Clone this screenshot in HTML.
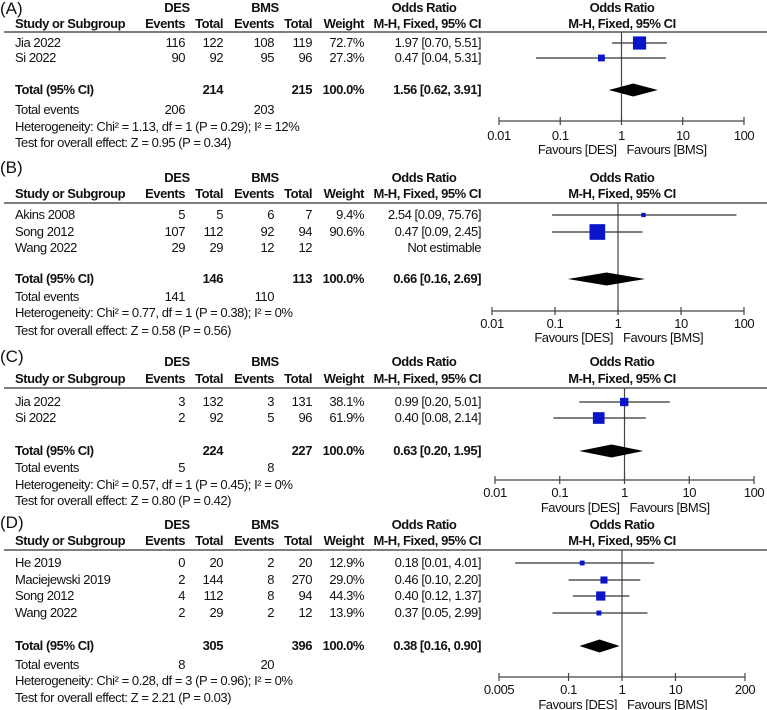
<!DOCTYPE html>
<html><head><meta charset="utf-8">
<style>
html,body{margin:0;padding:0;background:#fff;}
svg{display:block;}
text{font-family:"Liberation Sans Narrow","Liberation Sans",Arial,sans-serif;font-size:13px;letter-spacing:-0.45px;fill:#111;}
.b{font-weight:bold;}
</style></head>
<body>
<svg id="chart" width="767" height="710" viewBox="0 0 767 710" xmlns="http://www.w3.org/2000/svg"></svg>
<script>
// ---- Panel A data ----
const aStudies = ["Jia 2022","Si 2022"];
const aDesEv = [116,90], aDesTot = [122,92], aBmsEv = [108,95], aBmsTot = [119,96];
const aWeights = [72.7,27.3];
const aOR = [1.97,0.47], aLo = [0.70,0.04], aHi = [5.51,5.31];
const aTotal = {des:214,bms:215,or:1.56,lo:0.62,hi:3.91,desEv:206,bmsEv:203,
  het:"Heterogeneity: Chi² = 1.13, df = 1 (P = 0.29); I² = 12%",test:"Test for overall effect: Z = 0.95 (P = 0.34)"};
const aTicks = [0.01,0.1,1,10,100];
const aTickLabels = ["0.01","0.1","1","10","100"];
// ---- Panel B data ----
const bStudies = ["Akins 2008","Song 2012","Wang 2022"];
const bDesEv = [5,107,29], bDesTot = [5,112,29], bBmsEv = [6,92,12], bBmsTot = [7,94,12];
const bWeights = [9.4,90.6,null];
const bOR = [2.54,0.47,null], bLo = [0.09,0.09,null], bHi = [75.76,2.45,null];
const bTotal = {des:146,bms:113,or:0.66,lo:0.16,hi:2.69,desEv:141,bmsEv:110,
  het:"Heterogeneity: Chi² = 0.77, df = 1 (P = 0.38); I² = 0%",test:"Test for overall effect: Z = 0.58 (P = 0.56)"};
const bTicks = [0.01,0.1,1,10,100];
const bTickLabels = ["0.01","0.1","1","10","100"];
// ---- Panel C data ----
const cStudies = ["Jia 2022","Si 2022"];
const cDesEv = [3,2], cDesTot = [132,92], cBmsEv = [3,5], cBmsTot = [131,96];
const cWeights = [38.1,61.9];
const cOR = [0.99,0.40], cLo = [0.20,0.08], cHi = [5.01,2.14];
const cTotal = {des:224,bms:227,or:0.63,lo:0.20,hi:1.95,desEv:5,bmsEv:8,
  het:"Heterogeneity: Chi² = 0.57, df = 1 (P = 0.45); I² = 0%",test:"Test for overall effect: Z = 0.80 (P = 0.42)"};
const cTicks = [0.01,0.1,1,10,100];
const cTickLabels = ["0.01","0.1","1","10","100"];
// ---- Panel D data ----
const dStudies = ["He 2019","Maciejewski 2019","Song 2012","Wang 2022"];
const dDesEv = [0,2,4,2], dDesTot = [20,144,112,29], dBmsEv = [2,8,8,2], dBmsTot = [20,270,94,12];
const dWeights = [12.9,29.0,44.3,13.9];
const dOR = [0.18,0.46,0.40,0.37], dLo = [0.01,0.10,0.12,0.05], dHi = [4.01,2.20,1.37,2.99];
const dTotal = {des:305,bms:396,or:0.38,lo:0.16,hi:0.90,desEv:8,bmsEv:20,
  het:"Heterogeneity: Chi² = 0.28, df = 3 (P = 0.96); I² = 0%",test:"Test for overall effect: Z = 2.21 (P = 0.03)"};
const dTicks = [0.005,0.1,1,10,200];
const dTickLabels = ["0.005","0.1","1","10","200"];

const NS = "http://www.w3.org/2000/svg";
const svg = document.getElementById("chart");
function mk(tag, attrs, parent){
  const e = document.createElementNS(NS, tag);
  for (const k in attrs) e.setAttribute(k, attrs[k]);
  (parent||svg).appendChild(e);
  return e;
}
function txt(parent, x, y, s, anchor, bold){
  const t = mk("text", {x:x, y:y, "text-anchor":anchor||"start"}, parent);
  if (bold) t.setAttribute("class","b");
  t.textContent = s;
  return t;
}
function fmt(v){ return v.toFixed(2); }
function ci(o,l,h){ return fmt(o)+" ["+fmt(l)+", "+fmt(h)+"]"; }

function drawPanel(id, label, lay, studies, desEv, desTot, bmsEv, bmsTot, weights, ors, los, his, tot, ticks, tickLabels){
  const g = mk("g", {});
  
  
  const lmin = Math.log10(ticks[0]), lmax = Math.log10(ticks[ticks.length-1]);
  const xs = v => lay.x0 + (Math.log10(v)-lmin)/(lmax-lmin)*(lay.x1-lay.x0);
  const pl = mk("text", {x:0, y:lay.label+6, style:"font-size:17px;letter-spacing:0"}, g);
  pl.textContent = label;
  
  
  txt(g, 177, lay.h1, "DES", "middle", true);
  txt(g, 265, lay.h1, "BMS", "middle", true);
  txt(g, 424, lay.h1, "Odds Ratio", "middle", true);
  txt(g, 622, lay.h1, "Odds Ratio", "middle", true);
  txt(g, 15, lay.h2, "Study or Subgroup", "start", true);
  txt(g, 185, lay.h2, "Events", "end", true);
  txt(g, 223, lay.h2, "Total", "end", true);
  txt(g, 274, lay.h2, "Events", "end", true);
  txt(g, 312, lay.h2, "Total", "end", true);
  txt(g, 364, lay.h2, "Weight", "end", true);
  txt(g, 481, lay.h2, "M-H, Fixed, 95% CI", "end", true);
  txt(g, 622, lay.h2, "M-H, Fixed, 95% CI", "middle", true);
  const hl = mk("line", {x1:4, x2:767, y1:lay.line, y2:lay.line, stroke:"#333", "stroke-width":1.3}, g);
  
  
  const one = xs(1);
  const nl = mk("line", {x1:one, x2:one, y1:lay.line, y2:lay.axis, stroke:"#444", "stroke-width":1.2}, g);
  
  
  for (let i=0;i<studies.length;i++){
    const y = lay.rows[i];
    const r = mk("g", {}, g);
    
    
    txt(r, 15, y+4, studies[i]);
    txt(r, 185, y+4, String(desEv[i]), "end");
    txt(r, 223, y+4, String(desTot[i]), "end");
    txt(r, 274, y+4, String(bmsEv[i]), "end");
    txt(r, 312, y+4, String(bmsTot[i]), "end");
    if (weights[i] != null) txt(r, 364, y+4, weights[i].toFixed(1)+"%", "end");
    if (ors[i] != null){
      txt(r, 481, y+4, ci(ors[i],los[i],his[i]), "end");
      const wl = mk("line", {x1:xs(los[i]), x2:xs(his[i]), y1:y, y2:y, stroke:"#333", "stroke-width":1.2}, r);
      
      
      const s = 3 + 0.14*weights[i];
      const sq = mk("rect", {x:xs(ors[i])-s/2, y:y-s/2, width:s, height:s, fill:"#0a14c8"}, r);
      
      
    } else {
      txt(r, 481, y+4, "Not estimable", "end");
    }
  }
  const ty = lay.total;
  txt(g, 15, ty+4, "Total (95% CI)", "start", true);
  txt(g, 223, ty+4, String(tot.des), "end", true);
  txt(g, 312, ty+4, String(tot.bms), "end", true);
  txt(g, 364, ty+4, "100.0%", "end", true);
  txt(g, 481, ty+4, ci(tot.or,tot.lo,tot.hi), "end", true);
  const dm = mk("polygon", {points:[xs(tot.lo)+","+ty, xs(tot.or)+","+(ty-6.5), xs(tot.hi)+","+ty, xs(tot.or)+","+(ty+6.5)].join(" "), fill:"#000"}, g);
  
  
  txt(g, 15, lay.events+4, "Total events");
  txt(g, 185, lay.events+4, String(tot.desEv), "end");
  txt(g, 274, lay.events+4, String(tot.bmsEv), "end");
  txt(g, 15, lay.het+4, tot.het);
  txt(g, 15, lay.test+4, tot.test);
  const ax = mk("line", {x1:lay.x0, x2:lay.x1, y1:lay.axis, y2:lay.axis, stroke:"#444", "stroke-width":1.2}, g);
  
  
  for (let k=0;k<ticks.length;k++){
    const x = xs(ticks[k]);
    const tk = mk("line", {x1:x, x2:x, y1:lay.axis-4, y2:lay.axis+4, stroke:"#444", "stroke-width":1.2}, g);
    
    
    txt(g, x, lay.ticks+4, tickLabels[k], "middle");
  }
  txt(g, one-5, lay.fav+4, "Favours [DES]", "end");
  txt(g, one+5, lay.fav+4, "Favours [BMS]", "start");
}

drawPanel("a","(A)",{label:8,h1:12,h2:28,line:32,rows:[43,58],total:90,events:110,het:127,test:143,axis:121,ticks:136,fav:150,x0:499,x1:744},
  aStudies,aDesEv,aDesTot,aBmsEv,aBmsTot,aWeights,aOR,aLo,aHi,aTotal,aTicks,aTickLabels);
drawPanel("b","(B)",{label:167,h1:182,h2:198,line:203,rows:[215,232,248],total:279,events:297,het:313,test:331,axis:311,ticks:324,fav:338,x0:492,x1:744},
  bStudies,bDesEv,bDesTot,bBmsEv,bBmsTot,bWeights,bOR,bLo,bHi,bTotal,bTicks,bTickLabels);
drawPanel("c","(C)",{label:356,h1:366,h2:383,line:388,rows:[402,418],total:451,events:468,het:485,test:501,axis:480,ticks:493,fav:508,x0:495,x1:754},
  cStudies,cDesEv,cDesTot,cBmsEv,cBmsTot,cWeights,cOR,cLo,cHi,cTotal,cTicks,cTickLabels);
drawPanel("d","(D)",{label:522,h1:529,h2:545,line:550,rows:[563,580,596,613],total:646,events:665,het:681,test:698,axis:677,ticks:690,fav:705,x0:499,x1:745},
  dStudies,dDesEv,dDesTot,dBmsEv,dBmsTot,dWeights,dOR,dLo,dHi,dTotal,dTicks,dTickLabels);
</script>
</body></html>
